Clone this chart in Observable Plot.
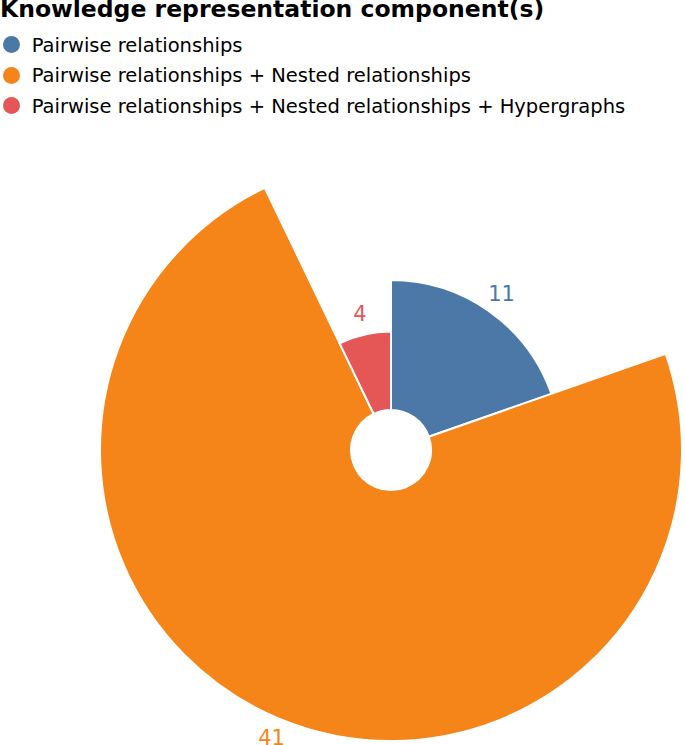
<!DOCTYPE html>
<html>
<head>
<meta charset="utf-8">
<script src="https://cdn.jsdelivr.net/npm/d3@7"></script>
<script src="https://cdn.jsdelivr.net/npm/@observablehq/plot@0.6"></script>
<style>
  html, body { margin: 0; padding: 0; background: #fff; }
  body { width: 685px; height: 745px; overflow: hidden; font-family: "DejaVu Sans", Verdana, sans-serif; }
  #legend { position: relative; height: 130px; }
  #legend .title { position: absolute; left: 0; top: -2px; font-weight: bold; font-size: 23.5px; line-height: 23.5px; white-space: nowrap; color: #000; }
  #legend .item { position: absolute; left: 0; height: 19.5px; white-space: nowrap; }
  #legend .sw { position: absolute; left: 3.2px; width: 17px; height: 17px; border-radius: 50%; }
  #legend .lab { position: absolute; left: 31.7px; top: 0; font-size: 19.5px; line-height: 19.5px; color: #000; }
  svg { display: block; }
</style>
</head>
<body>
<div id="legend"></div>
<div id="chart"></div>
<script>
const legendTitle = "Knowledge representation component(s)";
const categories = [
  "Pairwise relationships",
  "Pairwise relationships + Nested relationships",
  "Pairwise relationships + Nested relationships + Hypergraphs"
];
const counts = [11, 41, 4];
const colors = ["#4c78a8", "#f58518", "#e45756"];

const data = categories.map((c, i) => ({category: c, count: counts[i]}));

// Legend (HTML, above the SVG)
const legend = document.getElementById("legend");
const t = document.createElement("div");
t.className = "title";
t.textContent = legendTitle;
legend.appendChild(t);
const rowCenters = [45, 75.5, 106];
categories.forEach((c, i) => {
  const item = document.createElement("div");
  item.className = "item";
  item.style.top = (rowCenters[i] - 9.4) + "px";
  const sw = document.createElement("div");
  sw.className = "sw";
  sw.style.background = colors[i];
  sw.style.top = (9.4 - 8.5) + "px";
  const lab = document.createElement("div");
  lab.className = "lab";
  lab.textContent = c;
  item.appendChild(sw);
  item.appendChild(lab);
  legend.appendChild(item);
});

const chart = Plot.plot({
  width: 685,
  height: 615,
  marginLeft: 97,
  marginRight: 0,
  marginTop: 25,
  marginBottom: 0,
  x: {domain: [-1, 1], axis: null},
  y: {domain: [-1, 1], axis: null},
  r: {type: "sqrt", domain: [0, d3.max(counts)], range: [40, 291]},
  color: {domain: categories, range: colors},
  marks: [
    Plot.dot(data, {
      x: () => 0,
      y: () => 0,
      r: "count",
      fill: "category",
      sort: null,
      render(index, scales, values) {
        const g = d3.create("svg:g");
        const inner = scales.r(0);
        const order = Array.from(index).sort((a, b) => a - b);
        const pie = d3.pie().sort(null).value(i => data[i].count)(order);
        const arc = d3.arc();
        for (const p of pie) {
          const i = p.data;
          g.append("path")
            .attr("transform", `translate(${values.x[i]},${values.y[i]})`)
            .attr("d", arc({innerRadius: inner, outerRadius: values.r[i], startAngle: p.startAngle, endAngle: p.endAngle}))
            .attr("fill", values.fill[i])
            .attr("stroke", "#fff")
            .attr("stroke-width", 2)
            .attr("stroke-linejoin", "round");
        }
        for (const p of pie) {
          const i = p.data;
          const mid = (p.startAngle + p.endAngle) / 2;
          const rr = values.r[i] + 21;
          g.append("text")
            .attr("x", values.x[i] + rr * Math.sin(mid))
            .attr("y", values.y[i] - rr * Math.cos(mid))
            .attr("text-anchor", "middle")
            .attr("dominant-baseline", "central")
            .attr("font-family", "DejaVu Sans, Verdana, sans-serif")
            .attr("font-size", 21)
            .attr("fill", values.fill[i])
            .text(data[i].count);
        }
        return g.node();
      }
    })
  ]
});
document.getElementById("chart").appendChild(chart);
</script>
</body>
</html>
